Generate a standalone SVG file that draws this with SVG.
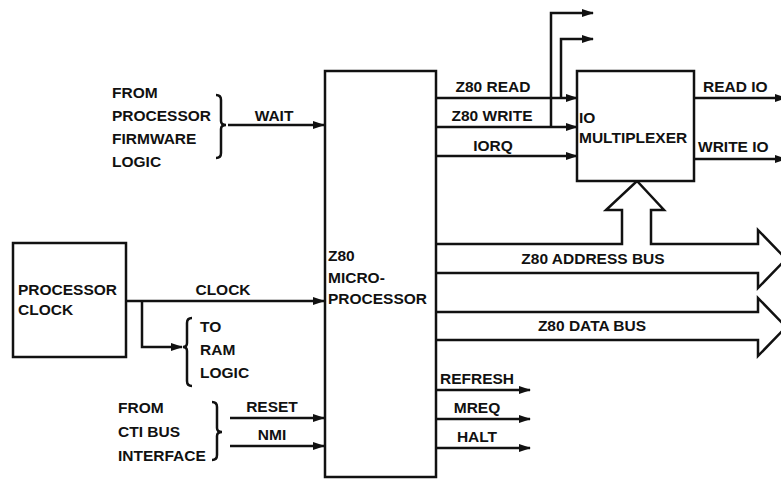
<svg xmlns="http://www.w3.org/2000/svg" width="781" height="479" viewBox="0 0 781 479">
<defs>
<style>
text{font-family:"Liberation Sans",Arial,sans-serif;font-size:15.5px;font-weight:bold;fill:#111}
.box{fill:#fff;stroke:#111;stroke-width:2.5}
.ln{fill:none;stroke:#111;stroke-width:2.5}
.bus{fill:#fff;stroke:#111;stroke-width:2.5;stroke-linejoin:miter}
.c{text-anchor:middle}
</style>
<marker id="ah" markerWidth="12" markerHeight="10" refX="11" refY="5" orient="auto" markerUnits="userSpaceOnUse">
<path d="M0,1 L12,5 L0,9 Z" fill="#111"/>
</marker>
</defs>
<rect width="781" height="479" fill="#fff"/>

<g id="connectors">
<line class="ln" x1="228" y1="125" x2="324" y2="125" marker-end="url(#ah)"/>
<text class="c" x="274" y="121">WAIT</text>
<line class="ln" x1="126" y1="301" x2="324" y2="301" marker-end="url(#ah)"/>
<text class="c" x="223" y="295">CLOCK</text>
<polyline class="ln" points="142,301 142,347 182,347" marker-end="url(#ah)"/>
<line class="ln" x1="230" y1="418" x2="324" y2="418" marker-end="url(#ah)"/>
<text class="c" x="272" y="412">RESET</text>
<line class="ln" x1="230" y1="446" x2="324" y2="446" marker-end="url(#ah)"/>
<text class="c" x="272" y="440">NMI</text>
<line class="ln" x1="437" y1="98" x2="577" y2="98" marker-end="url(#ah)"/>
<text class="c" x="493" y="92">Z80 READ</text>
<line class="ln" x1="437" y1="127" x2="577" y2="127" marker-end="url(#ah)"/>
<text class="c" x="492" y="121">Z80 WRITE</text>
<line class="ln" x1="437" y1="156" x2="577" y2="156" marker-end="url(#ah)"/>
<text class="c" x="493" y="151">IORQ</text>
<polyline class="ln" points="551,127 551,13 593,13" marker-end="url(#ah)"/>
<polyline class="ln" points="561,98 561,39 593,39" marker-end="url(#ah)"/>
<line class="ln" x1="694" y1="98" x2="786" y2="98" marker-end="url(#ah)"/>
<text x="703" y="92">READ IO</text>
<line class="ln" x1="694" y1="159" x2="786" y2="159" marker-end="url(#ah)"/>
<text x="698" y="152">WRITE IO</text>
<path class="bus" d="M437,244 L622,244 L622,210 L606,210 L637,181 L664,210 L651,210 L651,244 L758,244 L758,230 L786,259 L758,288 L758,273 L437,273"/>
<text class="c" x="593" y="264">Z80 ADDRESS BUS</text>
<path class="bus" d="M437,312 L758,312 L758,298 L786,327 L758,356 L758,340 L437,340"/>
<text class="c" x="592" y="331">Z80 DATA BUS</text>
<line class="ln" x1="437" y1="390" x2="530" y2="390" marker-end="url(#ah)"/>
<text x="440" y="384">REFRESH</text>
<line class="ln" x1="437" y1="419" x2="530" y2="419" marker-end="url(#ah)"/>
<text class="c" x="477" y="413">MREQ</text>
<line class="ln" x1="437" y1="448" x2="530" y2="448" marker-end="url(#ah)"/>
<text class="c" x="477" y="442">HALT</text>
</g>

<g id="firmware-logic">
<text x="112" y="98">FROM</text>
<text x="112" y="121">PROCESSOR</text>
<text x="112" y="144">FIRMWARE</text>
<text x="112" y="167">LOGIC</text>
<path class="ln" stroke-width="2" d="M216,95 Q221,95 221,100 L221,121 Q221,125 226,125 Q221,125 221,129 L221,153 Q221,158 216,158"/>
</g>

<g id="processor-clock">
<rect class="box" x="13" y="243" width="113" height="114"/>
<text x="18" y="295">PROCESSOR</text>
<text x="18" y="315">CLOCK</text>
</g>

<g id="ram-logic">
<path class="ln" stroke-width="2" d="M192,318 Q187,318 187,323 L187,343 Q187,347 183,347 Q187,347 187,351 L187,381 Q187,386 192,386"/>
<text x="200" y="332">TO</text>
<text x="200" y="355">RAM</text>
<text x="200" y="378">LOGIC</text>
</g>

<g id="cti-bus">
<text x="118" y="413">FROM</text>
<text x="118" y="437">CTI BUS</text>
<text x="118" y="461">INTERFACE</text>
<path class="ln" stroke-width="2" d="M212,402 Q217,402 217,407 L217,428 Q217,432 222,432 Q217,432 217,436 L217,455 Q217,460 212,460"/>
</g>

<g id="z80">
<rect class="box" x="325" y="71" width="111" height="406"/>
<text x="328" y="261">Z80</text>
<text x="328" y="283">MICRO-</text>
<text x="328" y="304">PROCESSOR</text>
</g>

<g id="io-mux">
<rect class="box" x="577" y="71" width="117" height="110"/>
<text x="579" y="123">IO</text>
<text x="579" y="143">MULTIPLEXER</text>
</g>
</svg>
